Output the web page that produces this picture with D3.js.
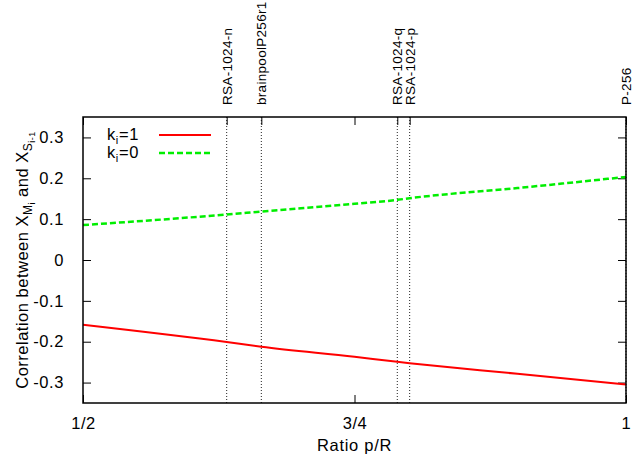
<!DOCTYPE html>
<html><head><meta charset="utf-8">
<script src="https://cdn.jsdelivr.net/npm/d3@7"></script>
<style>
body{margin:0;background:#fff;}
text{font-family:"Liberation Sans",Arial,sans-serif;fill:#000;}
</style></head>
<body><svg id="c" width="634" height="455"></svg>
<script>
// ---- data ----
const ratios = [0.5, 0.6323, 0.6642, 0.75, 0.7894, 0.8008, 0.9, 1.0];
const k1Values = [-0.1585, -0.2008, -0.2123, -0.2369, -0.2492, -0.2525, -0.2785, -0.305];
const k0Values = [0.0854, 0.1114, 0.1187, 0.1374, 0.1472, 0.1512, 0.176, 0.2033];
const markerNames = ["RSA-1024-n", "brainpoolP256r1", "RSA-1024-q", "RSA-1024-p", "P-256"];
const markerRatios = [0.6323, 0.6642, 0.7894, 0.8008, 1.0];
const xTickValues = [0.5, 0.75, 1.0];
const xTickLabels = ["1/2", "3/4", "1"];
const yTickValues = [-0.3, -0.2, -0.1, 0, 0.1, 0.2, 0.3];
const yTickLabels = ["-0.3", "-0.2", "-0.1", "0", "0.1", "0.2", "0.3"];

// ---- layout ----
const svg = d3.select("#c");
const L = 83, R = 626, T = 117, B = 403;
const x = d3.scaleLinear().domain([0.5, 1]).range([L, R]);
const y = d3.scaleLinear().domain([-0.35, 0.35]).range([B, T]);
const fs = 16.5;

// dotted marker lines
markerRatios.forEach((r) => {
  svg.append("line").attr("x1", x(r)).attr("x2", x(r)).attr("y1", T).attr("y2", B)
    .attr("stroke", "#222").attr("stroke-width", 1).attr("stroke-dasharray", "1,2");
});

// axes with inward ticks
const tickLen = 8;
const gx = svg.append("g").attr("transform", `translate(0,${B})`)
  .call(d3.axisBottom(x).tickValues(xTickValues).tickFormat((d,i)=>xTickLabels[i]).tickSizeInner(-tickLen).tickSizeOuter(0).tickPadding(14));
const gxTop = svg.append("g").attr("transform", `translate(0,${T})`)
  .call(d3.axisTop(x).tickValues(xTickValues.concat(markerRatios)).tickFormat("").tickSizeInner(-tickLen).tickSizeOuter(0));
const gy = svg.append("g").attr("transform", `translate(${L},0)`)
  .call(d3.axisLeft(y).tickValues(yTickValues).tickFormat((d,i)=>yTickLabels[i]).tickSizeInner(-tickLen).tickSizeOuter(0).tickPadding(19));
const gyR = svg.append("g").attr("transform", `translate(${R},0)`)
  .call(d3.axisRight(y).tickValues(yTickValues).tickFormat("").tickSizeInner(-tickLen).tickSizeOuter(0));
[gx, gxTop, gy, gyR].forEach(g => {
  g.select(".domain").remove();
  g.selectAll(".tick line").attr("stroke", "#000").attr("stroke-width", 1);
  g.selectAll("text").attr("font-size", fs).attr("font-family", "Liberation Sans, Arial, sans-serif").attr("letter-spacing", "0.6px").attr("fill", "#000");
});

// series lines
const line = d3.line().x((d) => x(d[0])).y(d => y(d[1])).curve(d3.curveMonotoneX);
svg.append("path").datum(ratios.map((r,i)=>[r,k1Values[i]]))
  .attr("d", line).attr("fill", "none").attr("stroke", "#ff0000").attr("stroke-width", 2);
svg.append("path").datum(ratios.map((r,i)=>[r,k0Values[i]]))
  .attr("d", line).attr("fill", "none").attr("stroke", "#00ee00").attr("stroke-width", 2.5).attr("stroke-dasharray", "6,3");

// frame
svg.append("rect").attr("x", L).attr("y", T).attr("width", R-L).attr("height", B-T)
  .attr("fill", "none").attr("stroke", "#000").attr("stroke-width", 1.5);

// marker labels (rotated)
markerRatios.forEach((r, i) => {
  svg.append("text").attr("transform", `translate(${x(r)+5},105) rotate(-90)`)
    .attr("font-size", 13.5).attr("letter-spacing", "0.3px").text(markerNames[i]);
});

// legend
const legend = [{c:"#ff0000", dash:null, w:2, sub:"i", val:"=1"}, {c:"#00ee00", dash:"6,3", w:2.5, sub:"i", val:"=0"}];
legend.forEach((d, i) => {
  const yy = 135 + i*18;
  const t = svg.append("text").attr("x", 107).attr("y", yy+5).attr("font-size", fs).attr("letter-spacing", "0.6px");
  t.append("tspan").text("k");
  t.append("tspan").attr("dy", 4).attr("font-size", 11).text(d.sub);
  t.append("tspan").attr("dy", -4).text(d.val);
  svg.append("line").attr("x1", 159).attr("x2", 211).attr("y1", yy).attr("y2", yy)
    .attr("stroke", d.c).attr("stroke-width", d.w).attr("stroke-dasharray", d.dash);
});

// x axis title
svg.append("text").attr("x", x(0.75)).attr("y", 451).attr("text-anchor", "middle")
  .attr("font-size", fs).attr("letter-spacing", "0.7px").text("Ratio p/R");

// y axis title
const yt = svg.append("text").attr("transform", `translate(28,${(T+B)/2}) rotate(-90)`)
  .attr("text-anchor", "middle").attr("font-size", fs).attr("letter-spacing", "0.5px");
yt.append("tspan").text("Correlation between X");
yt.append("tspan").attr("dy", 4).attr("font-size", 12).text("M");
yt.append("tspan").attr("dy", 3).attr("font-size", 9).text("i");
yt.append("tspan").attr("dy", -7).text(" and X");
yt.append("tspan").attr("dy", 4).attr("font-size", 12).text("S");
yt.append("tspan").attr("dy", 3).attr("font-size", 9).text("i-1");
</script></body></html>
